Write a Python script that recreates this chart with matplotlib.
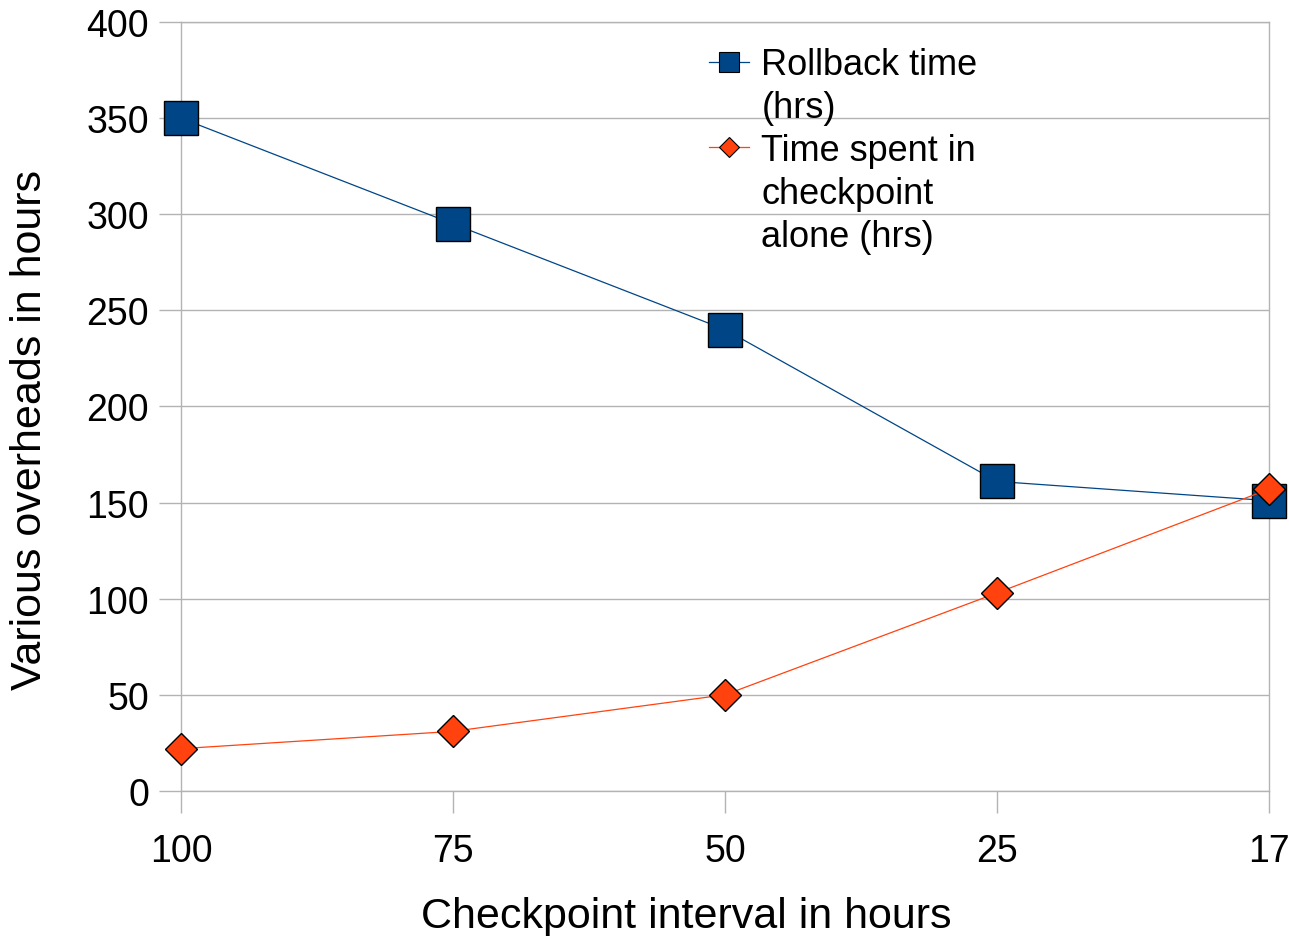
import matplotlib
matplotlib.use('Agg')
import matplotlib.pyplot as plt
from matplotlib.lines import Line2D

# data
intervals = ['100', '75', '50', '25', '17']
rollback_hrs = [350, 295, 240, 161, 151]
checkpoint_hrs = [22, 31, 50, 103, 157]

blue = '#004586'
orange = '#ff420e'
grey = '#b3b3b3'

plt.rcParams['font.family'] = ['Liberation Sans', 'DejaVu Sans']

fig = plt.figure(figsize=(12.89, 9.37), dpi=100)
ax = fig.add_axes([0.1404, 0.1548, 0.8441, 0.8207])

x = list(range(len(intervals)))
ax.plot(x, rollback_hrs, color=blue, linewidth=0.9, marker='s', markersize=24,
        markerfacecolor=blue, markeredgecolor='black', markeredgewidth=1,
        zorder=3, clip_on=False)
ax.plot(x, checkpoint_hrs, color=orange, linewidth=0.9, marker='D', markersize=16.5,
        markerfacecolor=orange, markeredgecolor='black', markeredgewidth=1,
        zorder=4, clip_on=False)

ax.set_xlim(0, len(intervals) - 1)
ax.set_ylim(0, 400)
ax.set_xticks(x)
ax.set_xticklabels(intervals)
ax.set_yticks(range(0, 401, 50))

# only horizontal grid lines
ax.yaxis.grid(True, color=grey, linewidth=1)
ax.set_axisbelow(True)
for s in ax.spines.values():
    s.set_color(grey)
    s.set_linewidth(1)
ax.tick_params(axis='both', colors=grey, length=16, width=1, labelsize=27,
               labelcolor='black', pad=7)
ax.tick_params(axis='x', pad=14)

ax.set_xlabel('Checkpoint interval in hours', fontsize=31)
ax.xaxis.set_label_coords(0.464, -0.137)
ax.set_ylabel('Various overheads in hours', fontsize=31)
ax.yaxis.set_label_coords(-0.12, 0.471)

# legend with one label line per entry so the marker sits on the first line
blank = Line2D([], [], linestyle='none', marker='none')
handles = [
    Line2D([], [], color=blue, linewidth=0.9, marker='s', markersize=15,
           markerfacecolor=blue, markeredgecolor='black', markeredgewidth=0.8),
    blank,
    Line2D([], [], color=orange, linewidth=0.9, marker='D', markersize=10,
           markerfacecolor=orange, markeredgecolor='black', markeredgewidth=0.8),
    blank,
    blank,
]
labels = ['Rollback time', '(hrs)', 'Time spent in', 'checkpoint', 'alone (hrs)']
ax.legend(handles, labels, loc='upper left', bbox_to_anchor=(0.462, 1.0),
          frameon=False, fontsize=26, handlelength=1.1, handletextpad=0.35,
          labelspacing=0.22, borderaxespad=0.3)

fig.savefig('out.png', dpi=100)
